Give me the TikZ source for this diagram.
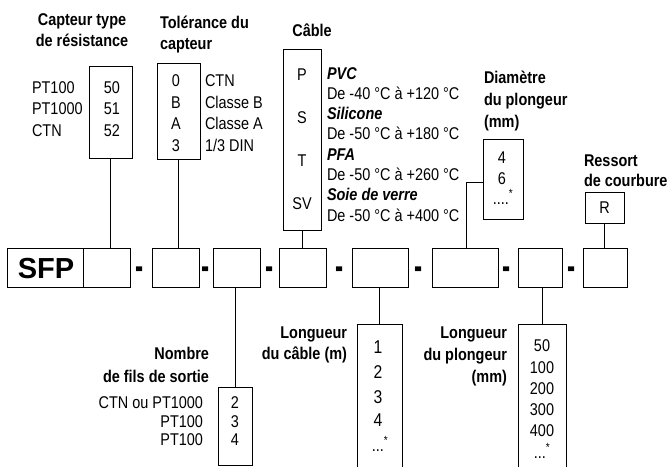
\documentclass[tikz,border=0pt]{standalone}
\usepackage{fontspec}
\setmainfont{Liberation Sans}[FakeStretch=0.85]
\newfontfamily\widefont{Liberation Sans}
\begin{document}
\begin{tikzpicture}[x=1pt,y=-1pt,
  every node/.style={inner sep=0pt,outer sep=0pt,font=\fontsize{17}{20}\selectfont},
  box/.style={draw,line width=0.8pt,rectangle},
  openbox/.style={rectangle},
  conn/.style={line width=0.8pt},
  lbl/.style={anchor=base west},
  rlbl/.style={anchor=base east},
  val/.style={anchor=base},
  bigval/.style={anchor=base,font=\fontsize{18.5}{20}\selectfont},
  ttl/.style={anchor=base west,font=\fontsize{17}{20}\selectfont\bfseries},
  rttl/.style={anchor=base east,font=\fontsize{17}{20}\selectfont\bfseries},
  cttl/.style={anchor=base,font=\fontsize{17}{20}\selectfont\bfseries},
  sep/.style={anchor=base,font=\fontsize{22}{24}\selectfont\bfseries}]
\useasboundingbox (0,0) rectangle (672,466);

% main row
\node[box,minimum width=76pt,minimum height=39pt] (sfp) at (45,267.5) {};
\node[anchor=base,font=\widefont\fontsize{29}{30}\selectfont\bfseries] (sfptxt) at (46,278) {SFP};
\node[box,minimum width=47pt,minimum height=39pt] (c1) at (106.5,267.5) {};
\node[box,minimum width=47pt,minimum height=39pt] (c2) at (175.5,267.5) {};
\node[box,minimum width=47pt,minimum height=39pt] (c3) at (236.5,267.5) {};
\node[box,minimum width=47pt,minimum height=39pt] (c4) at (302.5,267.5) {};
\node[box,minimum width=56pt,minimum height=39pt] (c5) at (380,267.5) {};
\node[box,minimum width=66pt,minimum height=39pt] (c6) at (465,267.5) {};
\node[box,minimum width=44pt,minimum height=39pt] (c7) at (540,267.5) {};
\node[box,minimum width=44pt,minimum height=39pt] (c8) at (605,267.5) {};
\foreach \x [count=\i] in {140,206,270,340,419,507,572}
  \node[sep] (d\i) at (\x,279) {\scalebox{1.3}[1.8]{-}};

% top boxes
\node[box,minimum width=43pt,minimum height=92pt] (t1) at (110.5,112) {};
\node[box,minimum width=43pt,minimum height=96pt] (t2) at (178.5,111) {};
\node[box,minimum width=38pt,minimum height=181pt] (t3) at (302,139.5) {};
\node[box,minimum width=40pt,minimum height=80pt] (t4) at (503,179) {};
\node[box,minimum width=39pt,minimum height=31pt] (t5) at (604.5,207.5) {};

% bottom boxes
\node[box,minimum width=34pt,minimum height=78pt] (b1) at (235,426) {};
\node[openbox,minimum width=45pt,minimum height=146pt] (b2) at (379.5,397) {};
\node[openbox,minimum width=48pt,minimum height=146pt] (b3) at (542,397) {};
\draw[conn] (b2.south west) -- (b2.north west) -- (b2.north east) -- (b2.south east);
\draw[conn] (b3.south west) -- (b3.north west) -- (b3.north east) -- (b3.south east);

% connectors
\coordinate (k) at (466,182);
\draw[conn] (t1.south) -- (t1.south |- c1.north);
\draw[conn] (t2.south) -- (t2.south |- c2.north);
\draw[conn] (t3.south) -- (t3.south |- c4.north);
\draw[conn] (t4.west |- k) -- (k) -- (k |- c6.north);
\draw[conn] (t5.south) -- (t5.south |- c8.north);
\draw[conn] (b1.north) -- (b1.north |- c3.south);
\draw[conn] (b2.north) -- (b2.north |- c5.south);
\draw[conn] (b3.north) -- (b3.north |- c7.south);

% titles
\node[cttl] (ti1a) at (82,25) {Capteur type};
\node[cttl] (ti1b) at (82,46) {de résistance};
\node[ttl] (ti2a) at (160,28) {Tolérance du};
\node[ttl] (ti2b) at (160,49) {capteur};
\node[cttl] (ti3) at (312,36) {Câble};
\node[ttl] (ti4a) at (484,83) {Diamètre};
\node[ttl] (ti4b) at (484,105) {du plongeur};
\node[ttl] (ti4c) at (484,127) {(mm)};
\node[ttl] (ti5a) at (584,166) {Ressort};
\node[ttl] (ti5b) at (584,186) {de courbure};
\node[rttl] (ti6a) at (209,359) {Nombre};
\node[rttl] (ti6b) at (209,382) {de fils de sortie};
\node[rttl] (ti7a) at (347,338) {Longueur};
\node[rttl] (ti7b) at (347,359) {du câble (m)};
\node[rttl] (ti8a) at (507,338) {Longueur};
\node[rttl] (ti8b) at (507,360) {du plongeur};
\node[rttl] (ti8c) at (507,382) {(mm)};

% capteur type
\foreach \t/\y [count=\i] in {50/93,51/114,52/136}
  \node[val] (v1\i) at (112,\y) {\t};
\foreach \t/\y [count=\i] in {PT100/93,PT1000/114,CTN/136}
  \node[lbl] (l1\i) at (32,\y) {\t};

% tolerance
\foreach \t/\y [count=\i] in {0/86,B/108,A/129,3/151}
  \node[val] (v2\i) at (176,\y) {\t};
\node[lbl] (l21) at (205,86) {CTN};
\node[lbl] (l22) at (205,108) {Classe B};
\node[lbl] (l23) at (205,129) {Classe A};
\node[lbl] (l24) at (205,151) {1/3 DIN};

% cable
\foreach \t/\y [count=\i] in {P/80,S/123,T/166,SV/209}
  \node[val] (v3\i) at (302,\y) {\t};
\node[lbl] (l31) at (327,79) {\textbf{\textit{PVC}}};
\node[lbl] (l32) at (327,99.3) {De -40 °C à +120 °C};
\node[lbl] (l33) at (327,119.6) {\textbf{\textit{Silicone}}};
\node[lbl] (l34) at (327,139.9) {De -50 °C à +180 °C};
\node[lbl] (l35) at (327,160.2) {\textbf{\textit{PFA}}};
\node[lbl] (l36) at (327,180.5) {De -50 °C à +260 °C};
\node[lbl] (l37) at (327,200.8) {\textbf{\textit{Soie de verre}}};
\node[lbl] (l38) at (327,221.1) {De -50 °C à +400 °C};

% diametre
\node[val] (v41) at (502,163) {4};
\node[val] (v42) at (502,184) {6};
\node[val] (v43) at (503,204) {....\textsuperscript{*}};

% ressort
\node[val] (v51) at (604.5,213.5) {R};

% nombre de fils
\foreach \t/\y [count=\i] in {2/408,3/427,4/445}
  \node[val] (v6\i) at (235,\y) {\t};
\node[rlbl] (l61) at (203,408) {CTN ou PT1000};
\node[rlbl] (l62) at (203,427) {PT100};
\node[rlbl] (l63) at (203,445) {PT100};

% longueur cable
\foreach \t/\y [count=\i] in {1/353,2/378,3/403,4/426}
  \node[bigval] (v7\i) at (378,\y) {\t};
\node[val] (v75) at (380,451) {...\textsuperscript{*}};

% longueur plongeur
\foreach \t/\y [count=\i] in {50/351,100/373,200/394,300/415,400/436}
  \node[val] (v8\i) at (542,\y) {\t};
\node[val] (v86) at (542,458) {...\textsuperscript{*}};
\end{tikzpicture}
\end{document}
